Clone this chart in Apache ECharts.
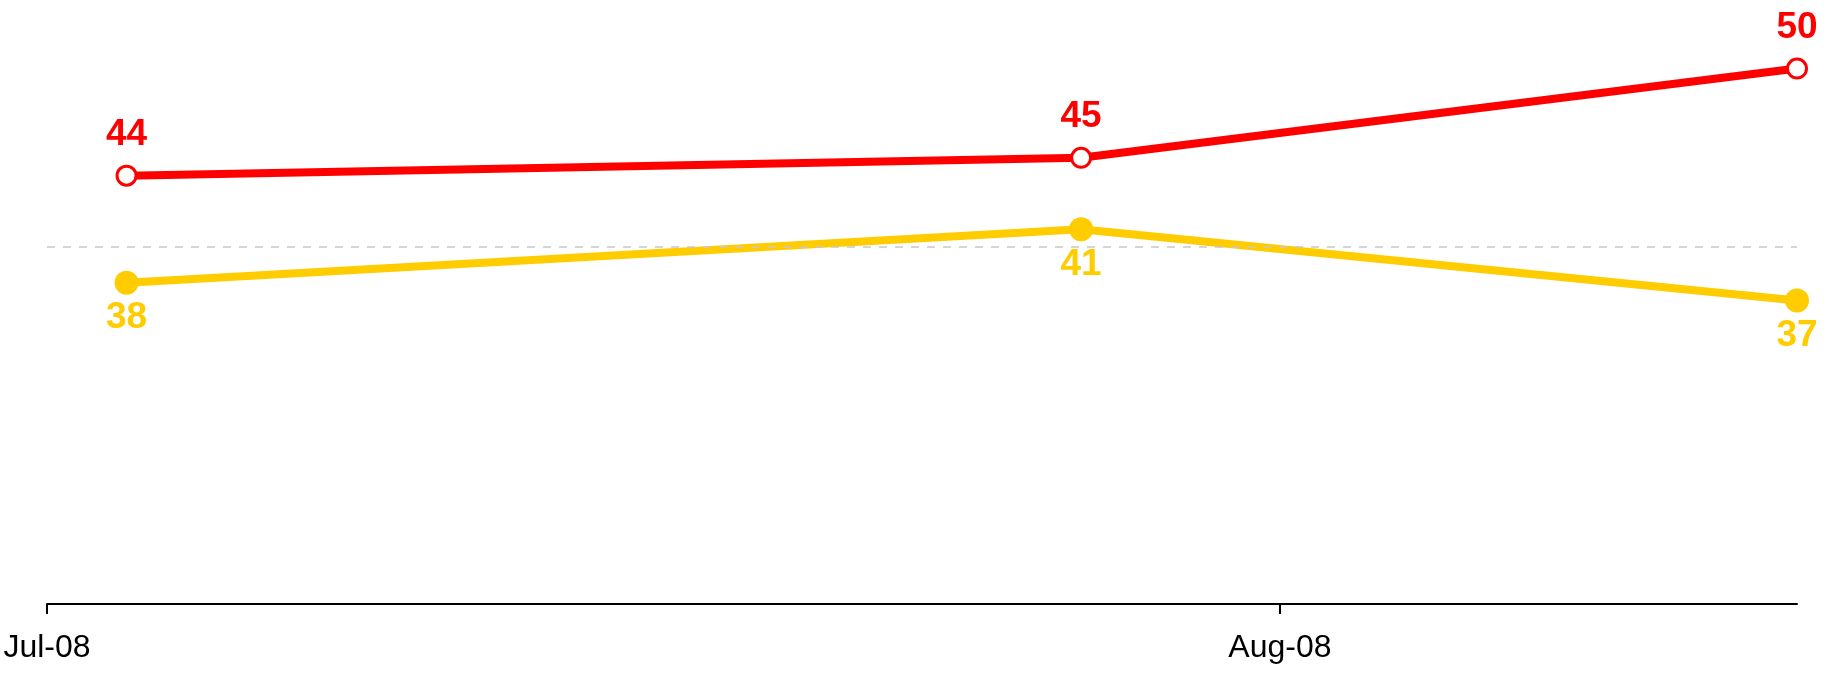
<!DOCTYPE html>
<html>
<head>
<meta charset="utf-8">
<script src="https://cdn.jsdelivr.net/npm/echarts@6/dist/echarts.min.js"></script>
<style>
  html, body { margin: 0; padding: 0; background: #fff; }
  #chart { width: 1838px; height: 675px; }
</style>
</head>
<body>
<div id="chart"></div>
<script>
// survey dates and values
const dates = ['2008-07-03', '2008-07-27', '2008-08-14'];
const redValues = [44, 45, 50];
const yellowValues = [38, 41, 37];

// x axis ticks
const tickDates = ['2008-07-01', '2008-08-01'];
const tickLabels = ['Jul-08', 'Aug-08'];

// reference line
const refValue = 40;

// dates -> timestamps, drawn on a plain value axis so ticks can be custom
const toTime = (s) => {
  const p = s.split('-').map(Number);
  return Date.UTC(p[0], p[1] - 1, p[2]);
};
const tickTimes = tickDates.map(toTime);
const font = "'Liberation Sans', Arial, sans-serif";

const chart = echarts.init(document.getElementById('chart'), null, { renderer: 'canvas' });

const option = {
  animation: false,
  backgroundColor: '#fff',
  grid: { left: 47, right: 41, top: 15, bottom: 71 },
  xAxis: {
    type: 'value',
    min: tickTimes[0],
    max: toTime(dates[dates.length - 1]),
    axisLine: { show: true, lineStyle: { color: '#000', width: 2 } },
    axisTick: { show: true, length: 10, customValues: tickTimes, lineStyle: { color: '#000', width: 2 } },
    axisLabel: {
      show: true,
      customValues: tickTimes,
      margin: 28,
      color: '#000',
      fontSize: 32,
      fontFamily: font,
      formatter: (v) => {
        const i = tickTimes.indexOf(v);
        return i >= 0 ? tickLabels[i] : '';
      },
    },
    splitLine: { show: false },
  },
  yAxis: {
    type: 'value',
    min: 20,
    max: 53,
    show: false,
    splitLine: { show: false },
  },
  series: [
    {
      name: 'yellow',
      type: 'line',
      data: dates.map((d, i) => [toTime(d), yellowValues[i]]),
      symbol: 'circle',
      symbolSize: 24,
      showAllSymbol: true,
      lineStyle: { color: '#ffcc00', width: 8 },
      itemStyle: { color: '#ffcc00' },
      label: {
        show: true,
        position: 'bottom',
        distance: 5,
        color: '#ffcc00',
        fontSize: 37,
        fontWeight: 'bold',
        fontFamily: font,
      },
      markLine: {
        silent: true,
        symbol: 'none',
        label: { show: false },
        lineStyle: { color: '#c8c8c8', type: [8, 8], width: 1.5 },
        data: [{ yAxis: refValue }],
      },
      z: 2,
    },
    {
      name: 'red',
      type: 'line',
      data: dates.map((d, i) => [toTime(d), redValues[i]]),
      symbol: 'circle',
      symbolSize: 19,
      showAllSymbol: true,
      lineStyle: { color: '#ff0000', width: 8 },
      itemStyle: { color: '#fff', borderColor: '#ff0000', borderWidth: 3 },
      label: {
        show: true,
        position: 'top',
        distance: 11,
        color: '#ff0000',
        fontSize: 37,
        fontWeight: 'bold',
        fontFamily: font,
      },
      z: 3,
    },
  ],
};

chart.setOption(option);
</script>
</body>
</html>
